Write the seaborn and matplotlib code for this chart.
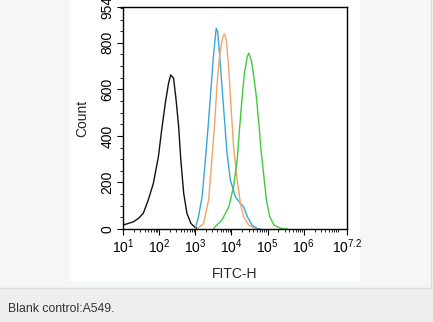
import numpy as np
import pandas as pd
import matplotlib
matplotlib.use("Agg")
import matplotlib.pyplot as plt
import seaborn as sns
from matplotlib.patches import Rectangle
from matplotlib.lines import Line2D
from matplotlib.ticker import FixedLocator, MultipleLocator, LogLocator, NullFormatter

# ---- data (x given as log10 of FITC-H, y as Count) ----
black_log = [1.00, 1.15, 1.29, 1.43, 1.56, 1.70, 1.84, 1.98, 2.07, 2.17, 2.26, 2.32,
             2.40, 2.47, 2.54, 2.60, 2.68, 2.77, 2.88, 3.00, 3.05]
black_cnt = [17, 24, 31, 46, 67, 125, 196, 311, 425, 540, 626, 662,
             648, 554, 440, 297, 153, 67, 24, 6, 3]

blue_log = [3.00, 3.09, 3.19, 3.28, 3.37, 3.44, 3.51, 3.58, 3.62, 3.67, 3.74, 3.81,
            3.88, 3.97, 4.11, 4.25, 4.34, 4.44, 4.57, 4.71, 4.80]
blue_cnt = [2, 53, 139, 297, 468, 612, 755, 862, 848, 755, 612, 468,
            325, 211, 139, 110, 96, 53, 17, 3, 0]

orange_log = [3.05, 3.23, 3.37, 3.46, 3.53, 3.60, 3.67, 3.76, 3.81, 3.86, 3.93, 3.99,
              4.06, 4.16, 4.25, 4.34, 4.48, 4.67]
orange_cnt = [0, 24, 125, 297, 440, 612, 741, 826, 838, 812, 683, 526,
              354, 211, 110, 53, 17, 0]

green_log = [3.51, 3.74, 3.93, 4.06, 4.16, 4.23, 4.30, 4.36, 4.44, 4.48, 4.55, 4.62,
             4.69, 4.76, 4.82, 4.90, 4.97, 5.06, 5.18, 5.36, 5.55]
green_cnt = [3, 39, 96, 182, 297, 440, 569, 669, 741, 756, 726, 655,
             569, 454, 340, 225, 125, 53, 17, 3, 0]

x_ticks_log = [1, 2, 3, 4, 5, 6, 7.2]
x_tick_labels = ["$10^{1}$", "$10^{2}$", "$10^{3}$", "$10^{4}$", "$10^{5}$", "$10^{6}$", "$10^{7.2}$"]
y_ticks = [0, 200, 400, 600, 800, 954]
y_tick_labels = ["0", "200", "400", "600", "800", "954"]
caption = "Blank control:A549."

sns.set_theme(style="white")
plt.rcParams["font.family"] = ["Liberation Sans", "DejaVu Sans"]
plt.rcParams["mathtext.fontset"] = "custom"
plt.rcParams["mathtext.rm"] = "Liberation Sans"
plt.rcParams["mathtext.it"] = "Liberation Sans"

frames = []
for name, lg, ct in [("black", black_log, black_cnt), ("blue", blue_log, blue_cnt),
                     ("orange", orange_log, orange_cnt), ("green", green_log, green_cnt)]:
    frames.append(pd.DataFrame({"FITC": np.power(10.0, lg), "Count": ct, "sample": name}))
df = pd.concat(frames, ignore_index=True)
palette = {"black": "#111111", "blue": "#3aa6d6", "orange": "#f2a36a", "green": "#3ecb3e"}

W, H = 433, 322
fig = plt.figure(figsize=(W / 100, H / 100), dpi=100, facecolor="#f5f6f6")

# page decorations (behind the axes)
fig.patches.append(Rectangle((70 / W, 1 - 281 / H), 290 / W, 281 / H, transform=fig.transFigure,
                             facecolor="white", edgecolor="none", zorder=-5))
fig.patches.append(Rectangle((0, 0), 1, 1 - 288 / H, transform=fig.transFigure,
                             facecolor="#eeeeee", edgecolor="none", zorder=-5))
fig.lines.append(Line2D([0, 1], [1 - 287.5 / H] * 2, transform=fig.transFigure, color="#dcdcdc",
                        lw=1, zorder=-4))
fig.lines.append(Line2D([430.5 / W] * 2, [1 - 287.5 / H, 1], transform=fig.transFigure, color="#dcdcdc",
                        lw=1, zorder=-4))
fig.text(8 / W, 1 - 309 / H, caption, fontsize=8.8, color="#333333", va="center", ha="left")

ax = fig.add_axes([123 / W, 1 - 229 / H, 224 / W, 222 / H])
ax.set_zorder(1)
ax.set_facecolor("white")
sns.lineplot(data=df, x="FITC", y="Count", hue="sample", estimator=None,
             sort=False, palette=palette, lw=1.0, legend=False, ax=ax)
ax.set_xscale("log")
ax.set_xlim(10 ** 1, 10 ** 7.2)
ax.set_ylim(0, 954)

ax.xaxis.set_major_locator(FixedLocator([10 ** v for v in x_ticks_log]))
ax.set_xticklabels(x_tick_labels)
ax.xaxis.set_minor_locator(LogLocator(base=10, subs=np.arange(2, 10), numticks=20))
ax.xaxis.set_minor_formatter(NullFormatter())
ax.yaxis.set_major_locator(FixedLocator(y_ticks))
ax.set_yticklabels(y_tick_labels, rotation=90, va="center")
ax.yaxis.set_minor_locator(MultipleLocator(50))

for s in ax.spines.values():
    s.set_visible(True)
    s.set_color("black")
    s.set_linewidth(1.0)
ax.tick_params(axis="both", which="major", direction="out", length=4, width=0.8,
               colors="black", labelsize=10, bottom=True, left=True, pad=2)
ax.tick_params(axis="both", which="minor", direction="out", length=2, width=0.6,
               colors="black", bottom=True, left=True)
ax.set_xlabel("FITC-H", fontsize=10, labelpad=8)
ax.set_ylabel("Count", fontsize=10, labelpad=8)

fig.savefig("out.png", dpi=100, facecolor=fig.get_facecolor())
